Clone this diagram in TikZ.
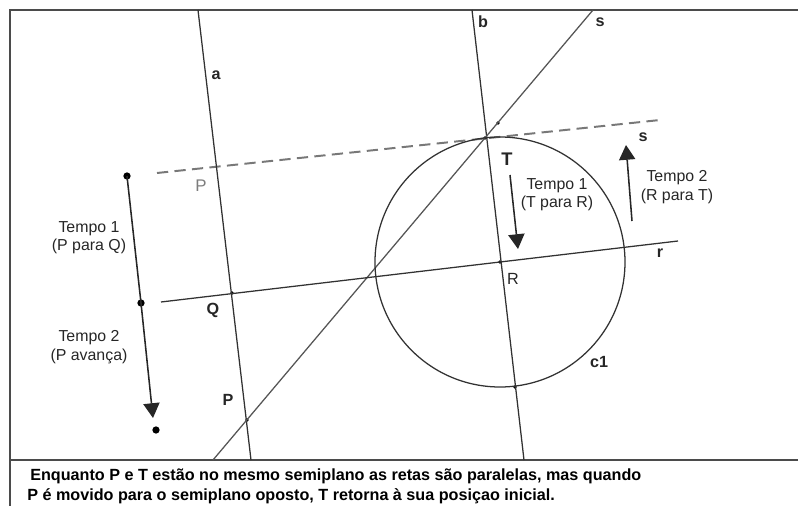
\documentclass[tikz,border=0pt]{standalone}
\usepackage{fontspec}
\setmainfont{Liberation Sans}
\usetikzlibrary{arrows.meta}
\definecolor{linegray}{RGB}{50,50,50}
\definecolor{sgray}{RGB}{85,85,85}
\definecolor{dashgray}{RGB}{120,120,120}
\definecolor{framegray}{RGB}{75,75,75}
\definecolor{lblgray}{RGB}{125,125,125}
\tikzset{
  geoline/.style={draw=linegray, line width=0.9pt},
  sline/.style={draw=sgray, line width=0.9pt},
  dashline/.style={draw=dashgray, line width=1.4pt, dash pattern=on 8pt off 4.5pt},
  frameline/.style={draw=framegray, line width=1.2pt},
  movearr/.style={-{Triangle[length=10.5pt, width=11.5pt]}, line width=1.1pt, black!85},
  bigdot/.style={circle, fill=black, inner sep=0pt, minimum size=5.2pt},
  ptdot/.style={circle, fill=black, inner sep=0pt, minimum size=2.6pt},
  lbl/.style={font=\fontsize{11.5pt}{13pt}\selectfont\bfseries, text=black!85, inner sep=0pt},
  tlabel/.style={font=\fontsize{11.3pt}{13pt}\selectfont, align=center, inner sep=0pt, text=black!85},
  captxt/.style={font=\fontsize{11.5pt}{14pt}\selectfont\bfseries, anchor=base west, inner sep=0pt},
}

\begin{document}
\begin{tikzpicture}[x=0.025cm, y=-0.025cm]
\useasboundingbox (0,0) rectangle (798,506);

% =====================================================================
%  FRAME
% =====================================================================
\draw[frameline] (10,506) -- (10,10) -- (798,10);
\draw[frameline] (10,460) -- (798,460);

% =====================================================================
%  CONSTRUCTION
% =====================================================================

% end points of the lines on the frame
\coordinate (a1) at (198,10);   \coordinate (a2) at (251,460);
\coordinate (b1) at (472,10);   \coordinate (b2) at (524,460);
\coordinate (s1) at (593,10);   \coordinate (s2) at (213,460);
\coordinate (d1) at (157,173);  \coordinate (d2) at (660,120);
\coordinate (r1) at (161,302);  \coordinate (r2) at (678,241);

% points
\node[ptdot] (T)    at (485,138) {};
\node[ptdot] (R)    at (500,262) {};
\node[ptdot] (Q)    at (232,293) {};
\node[ptdot] (Plow) at (247,420) {};
\node[ptdot] (C)    at (515,387) {};
\node[ptdot] (S)    at (498,123) {};

% lines
\draw[dashline] (d1) -- (d2);
\draw[geoline] (a1) -- (a2);
\draw[geoline] (b1) -- (b2);
\draw[sline] (s1) -- (s2);
\draw[geoline] (r1) -- (r2);

% circle c1 (centre R, through T)
\draw[geoline] (R.center) circle[radius=125];

% labels
\node[lbl] (la)   at (216,75)  {a};
\node[lbl] (lb)   at (483,22)  {b};
\node[lbl] (ls1)  at (600,22)  {s};
\node[lbl] (ls2)  at (643,137) {s};
\node[lbl] (lr)   at (660,253) {r};
\node[lbl, font=\fontsize{13pt}{14pt}\selectfont\bfseries] (lT) at (507,159) {T};
\node[lbl, font=\fontsize{11.5pt}{13pt}\selectfont] (lR) at (513,279) {R};
\node[lbl] (lQ)   at (213,310) {Q};
\node[lbl] (lP2)  at (228,400) {P};
\node[lbl, font=\fontsize{12pt}{13pt}\selectfont, text=lblgray] (lP1) at (201,186) {P};
\node[lbl] (lc)   at (599,362) {c1};

% =====================================================================
%  MOVEMENT OF P (left)
% =====================================================================
\node[bigdot] (p0) at (127,176) {};
\node[bigdot] (p1) at (141,303) {};
\coordinate (p2tip) at (153,418);
\node[bigdot] (p2) at (156,430) {};

\draw[movearr] (p0.center) -- (p1.center) -- (p2tip);

\node[tlabel] (tp1) at (89,238) {Tempo 1\\(P para Q)};
\node[tlabel] (tp2) at (89,347) {Tempo 2\\(P avança)};

% =====================================================================
%  MOVEMENT OF T (right)
% =====================================================================
\coordinate (tT) at (510,175);
\coordinate (tR) at (518,249);
\coordinate (uR) at (632,221);
\coordinate (uT) at (626,145);

\draw[movearr] (tT) -- (tR);
\draw[movearr] (uR) -- (uT);

\node[tlabel] (tt1) at (557,195) {Tempo 1\\(T para R)};
\node[tlabel] (tt2) at (677,187) {Tempo 2\\(R para T)};

% =====================================================================
%  CAPTION
% =====================================================================
\node[captxt] (cap1) at (30,480)
  {Enquanto P e T estão no mesmo semiplano as retas são paralelas, mas quando};
\node[captxt] (cap2) at (27,500)
  {P é movido para o semiplano oposto, T retorna à sua posiçao inicial.};

\end{tikzpicture}
\end{document}
